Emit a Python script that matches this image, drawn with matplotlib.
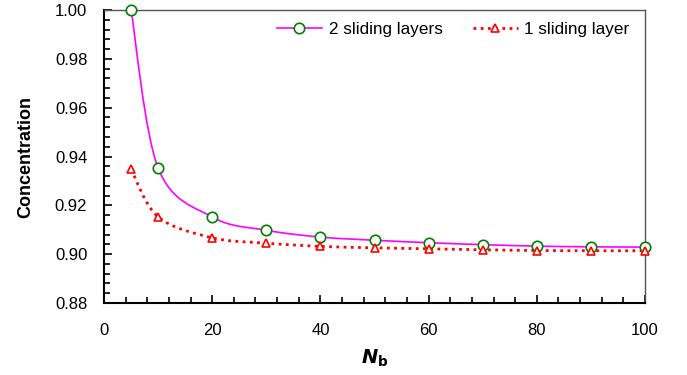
import numpy as np
import matplotlib
matplotlib.use("Agg")
import matplotlib.pyplot as plt
from matplotlib.path import Path
from matplotlib.patches import PathPatch
from matplotlib.lines import Line2D
from matplotlib.ticker import MultipleLocator, AutoMinorLocator

plt.rcParams['font.family'] = ['Liberation Sans', 'DejaVu Sans']

# data
nb = [5, 10, 20, 30, 40, 50, 60, 70, 80, 90, 100]
two_layers = [1.000, 0.9353, 0.9152, 0.9098, 0.9070, 0.9057, 0.9047, 0.9039, 0.9033, 0.9030, 0.9029]
one_layer = [0.9348, 0.9153, 0.9067, 0.9045, 0.9032, 0.9026, 0.9022, 0.9018, 0.9015, 0.9014, 0.9014]


def smooth_path(xs, ys):
    # Excel-like smoothed line: Catmull-Rom segments drawn as cubic Beziers
    p = np.column_stack([xs, ys]).astype(float)
    verts = [p[0]]
    codes = [Path.MOVETO]
    n = len(p)
    for i in range(n - 1):
        p0 = p[i - 1] if i > 0 else p[i]
        p3 = p[i + 2] if i + 2 < n else p[i + 1]
        c1 = p[i] + (p[i + 1] - p0) / 6.0
        c2 = p[i + 1] - (p3 - p[i]) / 6.0
        verts += [c1, c2, p[i + 1]]
        codes += [Path.CURVE4] * 3
    return Path(verts, codes)


fig = plt.figure(figsize=(6.87, 3.75), dpi=100)
ax = fig.add_axes([0.1514, 0.192, 0.7875, 0.7813])

mag = '#FF00FF'
red = '#FF0000'
green = '#008000'

ax.add_patch(PathPatch(smooth_path(nb, two_layers), facecolor='none',
                       edgecolor=mag, lw=1.2, zorder=2))
ax.add_patch(PathPatch(smooth_path(nb, one_layer), facecolor='none',
                       edgecolor=red, lw=2.0, linestyle=(0, (1, 1.6)), zorder=2))

ax.plot(nb, two_layers, linestyle='none', marker='o', ms=7.5, mfc='white',
        mec=green, mew=1.2, zorder=4, clip_on=False)
ax.plot(nb, one_layer, linestyle='none', marker='^', ms=6, mfc='white',
        mec=red, mew=1.2, zorder=5, clip_on=False)

ax.set_xlim(0, 100)
ax.set_ylim(0.88, 1.00)
ax.xaxis.set_major_locator(MultipleLocator(20))
ax.xaxis.set_minor_locator(AutoMinorLocator(5))
ax.yaxis.set_major_locator(MultipleLocator(0.02))
ax.yaxis.set_minor_locator(AutoMinorLocator(5))
ax.yaxis.set_major_formatter(matplotlib.ticker.FormatStrFormatter('%.2f'))
ax.tick_params(which='both', direction='in', top=False, right=False,
               labelsize=12, width=1.2, color='black')
ax.tick_params(which='major', length=6, pad=14.5)
ax.tick_params(which='minor', length=4)
ax.tick_params(axis='y', pad=12)
for s in ['left', 'bottom']:
    ax.spines[s].set_linewidth(1.5)
for s in ['top', 'right']:
    ax.spines[s].set_linewidth(1.0)
    ax.spines[s].set_color('#555555')

ax.set_ylabel('Concentration', fontsize=13, fontweight='bold', labelpad=15)
ax.set_xlabel(r'$\boldsymbol{N}_{\mathbf{b}}$', fontsize=14, labelpad=7)

h1 = Line2D([], [], color=mag, lw=1.2, marker='o', ms=7.5, mfc='white', mec=green, mew=1.2)
h2 = Line2D([], [], color=red, lw=2.0, linestyle=(0, (1, 1.6)), marker='^', ms=6,
            mfc='white', mec=red, mew=1.2)
ax.legend([h1, h2], ['2 sliding layers', '1 sliding layer'], ncol=2, frameon=False,
          fontsize=12.3, loc='upper right', bbox_to_anchor=(1.0, 1.01),
          handlelength=2.6, columnspacing=1.8, handletextpad=0.4)

fig.savefig('out.png', dpi=100)
